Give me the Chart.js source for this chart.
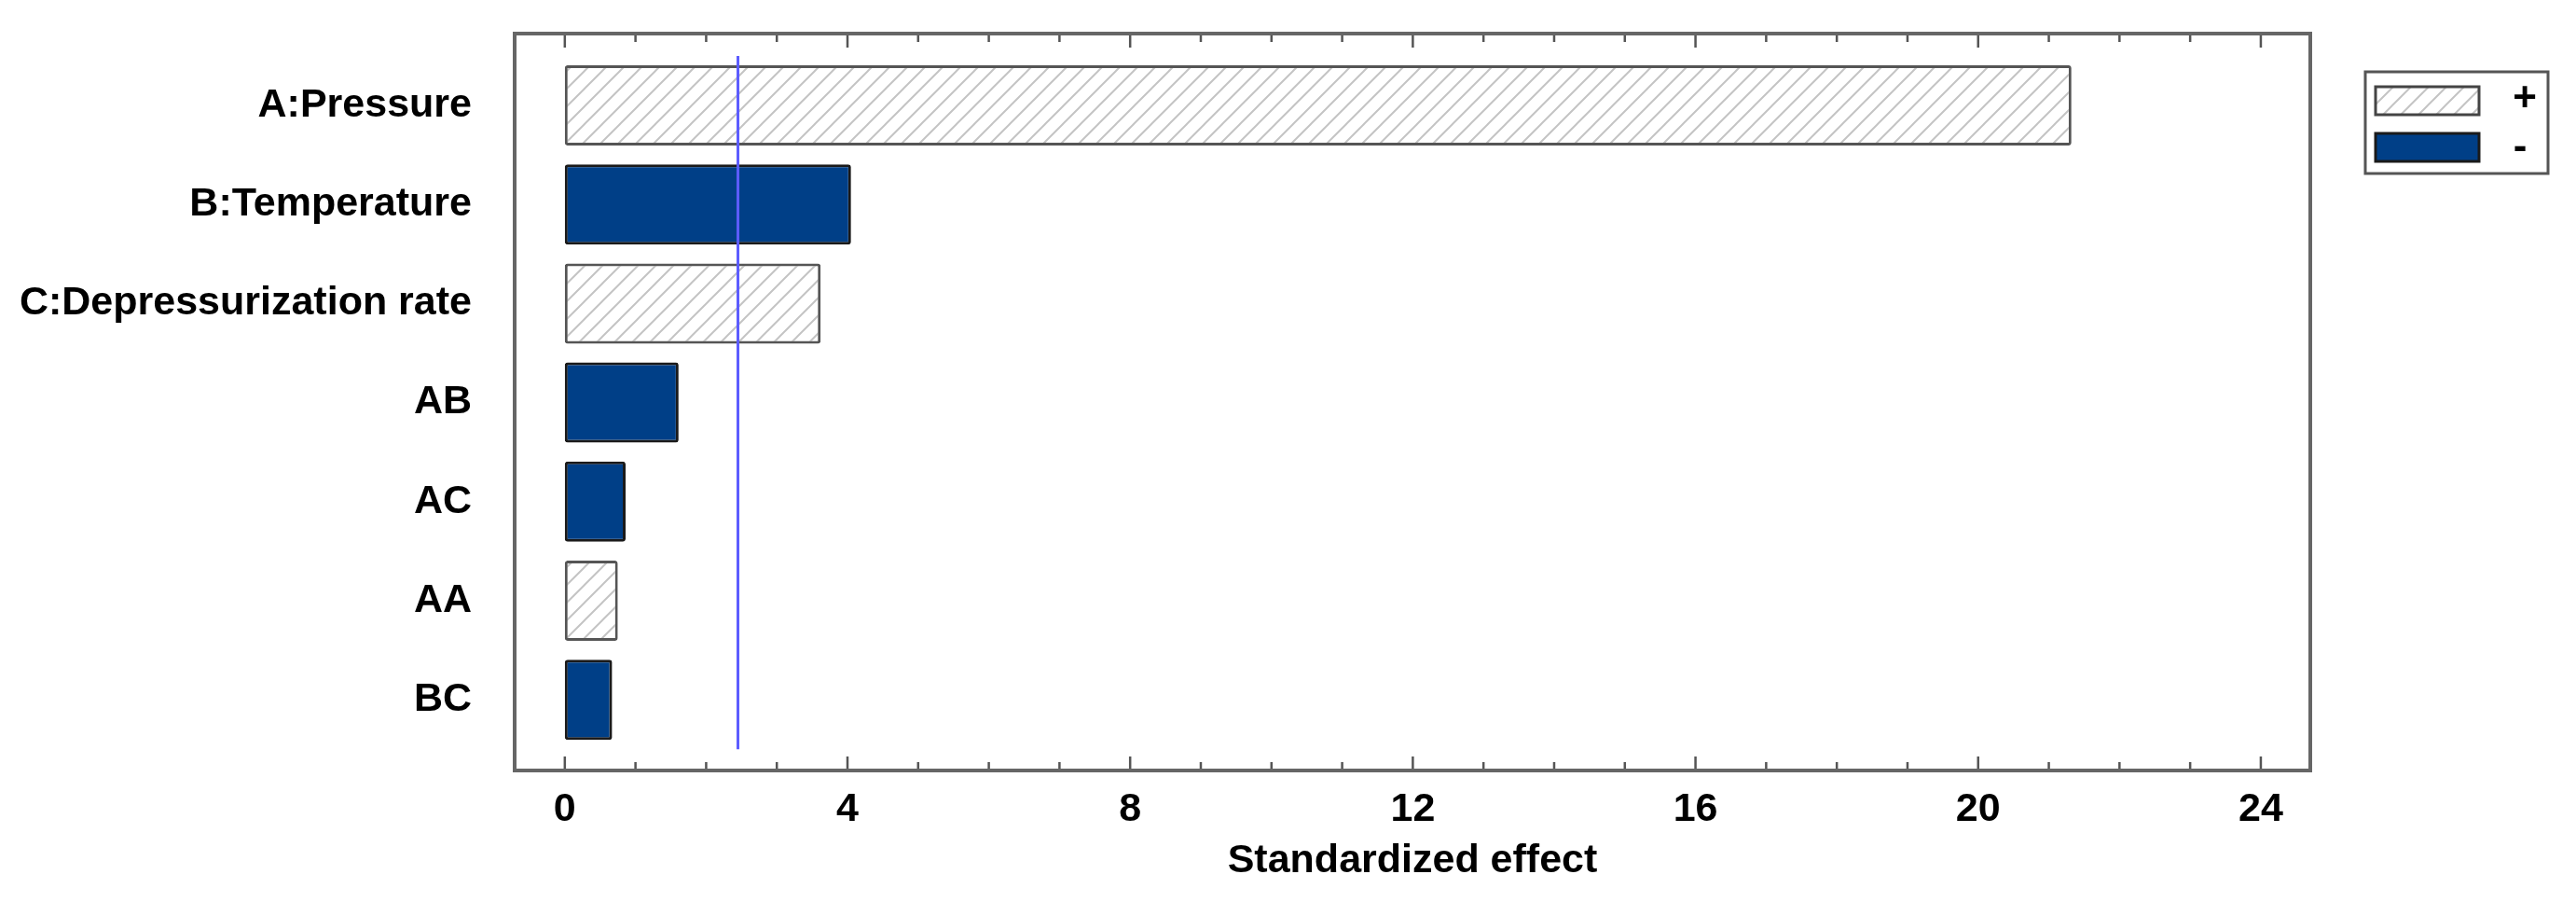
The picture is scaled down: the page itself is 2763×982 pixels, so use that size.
<!DOCTYPE html>
<html>
<head>
<meta charset="utf-8">
<script src="https://cdn.jsdelivr.net/npm/chart.js@4/dist/chart.umd.min.js"></script>
<style>
  html, body { margin: 0; padding: 0; background: #fff; }
  #wrap { width: 2763px; height: 982px; }
</style>
</head>
<body>
<div id="wrap"><canvas id="effectsChart"></canvas></div>
<script>
// datos del diagrama de Pareto
const factores = ['A:Pressure', 'B:Temperature', 'C:Depressurization rate', 'AB', 'AC', 'AA', 'BC'];
const efectos = [21.32, 4.05, 3.62, 1.61, 0.86, 0.75, 0.67];
const signos = ['+', '-', '+', '-', '-', '+', '-'];
const xTicks = [0, 4, 8, 12, 16, 20, 24];
const tCritico = 2.45;

const AZUL = '#003f87';
const FUENTE = "'Liberation Sans', Arial, sans-serif";

// patron rayado para los efectos positivos
function hatchPattern() {
  const c = document.createElement('canvas');
  c.width = 19; c.height = 19;
  const g = c.getContext('2d');
  g.fillStyle = '#ffffff';
  g.fillRect(0, 0, 19, 19);
  g.strokeStyle = '#c4c4c4';
  g.lineWidth = 2;
  g.beginPath();
  g.moveTo(-2, 21); g.lineTo(21, -2);
  g.moveTo(-2, 2); g.lineTo(2, -2);
  g.moveTo(17, 21); g.lineTo(21, 17);
  g.stroke();
  return g.createPattern(c, 'repeat');
}
const rayado = hatchPattern();

// marco, marcas de los ejes, linea critica y leyenda
const decoracion = {
  id: 'decoracion',
  afterDatasetsDraw(chart) {
    const { ctx, chartArea: a, scales: { x, y } } = chart;
    ctx.save();
    // linea de referencia (t critico)
    ctx.strokeStyle = '#5c5cff';
    ctx.lineWidth = 3;
    ctx.beginPath();
    ctx.moveTo(x.getPixelForValue(tCritico), y.getPixelForValue(-0.5));
    ctx.lineTo(x.getPixelForValue(tCritico), y.getPixelForValue(6.5));
    ctx.stroke();

    // marcas arriba y abajo, hacia dentro
    ctx.strokeStyle = '#555';
    ctx.lineWidth = 2.5;
    ctx.beginPath();
    for (let v = 0; v <= 24; v++) {
      const px = x.getPixelForValue(v);
      const len = v % 4 === 0 ? 15 : 9;
      ctx.moveTo(px, a.bottom); ctx.lineTo(px, a.bottom - len);
      ctx.moveTo(px, a.top); ctx.lineTo(px, a.top + len);
    }
    ctx.stroke();

    // marco
    ctx.strokeStyle = '#666';
    ctx.lineWidth = 4;
    ctx.strokeRect(a.left, a.top, a.right - a.left, a.bottom - a.top);

    // leyenda
    const lx = a.right + 59, ly = a.top + 41;
    ctx.lineWidth = 3;
    ctx.strokeStyle = '#555';
    ctx.strokeRect(lx, ly, 196, 109);
    ctx.fillStyle = rayado;
    ctx.fillRect(lx + 11, ly + 16, 111, 30);
    ctx.strokeStyle = '#444';
    ctx.strokeRect(lx + 11, ly + 16, 111, 30);
    ctx.fillStyle = AZUL;
    ctx.fillRect(lx + 11, ly + 66, 111, 30);
    ctx.strokeStyle = '#1a1a1a';
    ctx.strokeRect(lx + 11, ly + 66, 111, 30);
    ctx.fillStyle = '#000';
    ctx.font = 'bold 44px ' + FUENTE;
    ctx.textAlign = 'center';
    ctx.textBaseline = 'middle';
    ctx.fillText('+', lx + 171, ly + 30);
    ctx.fillText('-', lx + 166, ly + 82);
    ctx.restore();
  }
};

new Chart(document.getElementById('effectsChart'), {
  type: 'bar',
  data: {
    datasets: [{
      label: 'Standardized effect',
      data: efectos.map((v, i) => ({ x: v, y: i })),
      backgroundColor: signos.map(s => s === '+' ? rayado : AZUL),
      borderColor: signos.map(s => s === '+' ? '#555' : '#1a1a1a'),
      borderWidth: 3,
      borderRadius: 3,
      borderSkipped: false,
      barPercentage: 0.81,
      categoryPercentage: 1
    }]
  },
  options: {
    indexAxis: 'y',
    responsive: true,
    maintainAspectRatio: false,
    animation: false,
    layout: { padding: { top: 36, right: 285, left: 0, bottom: 0 } },
    plugins: { legend: { display: false }, tooltip: { enabled: false } },
    scales: {
      x: {
        type: 'linear',
        position: 'bottom',
        min: -0.71,
        max: 24.7,
        grid: { display: false, drawTicks: false },
        border: { display: false },
        afterBuildTicks: s => { s.ticks = xTicks.map(v => ({ value: v })); },
        afterFit: s => { s.height = 156; s.paddingLeft = 0; s.paddingRight = 0; },
        ticks: {
          padding: 16,
          color: '#000',
          font: { family: FUENTE, size: 43, weight: 'bold' },
          maxRotation: 0
        },
        title: {
          display: true,
          text: 'Standardized effect',
          color: '#000',
          font: { family: FUENTE, size: 43, weight: 'bold' },
          padding: { top: 0, bottom: 33 }
        }
      },
      y: {
        type: 'linear',
        reverse: true,
        offset: false,
        min: -0.725,
        max: 6.714,
        grid: { display: false, drawTicks: false, offset: false },
        border: { display: false },
        afterBuildTicks: s => { s.ticks = factores.map((f, i) => ({ value: i })); },
        afterFit: s => { s.width = 552; s.paddingTop = 0; s.paddingBottom = 0; },
        ticks: {
          padding: 46,
          color: '#000',
          font: { family: FUENTE, size: 43, weight: 'bold' },
          callback: v => factores[v]
        }
      }
    }
  },
  plugins: [decoracion]
});
</script>
</body>
</html>
